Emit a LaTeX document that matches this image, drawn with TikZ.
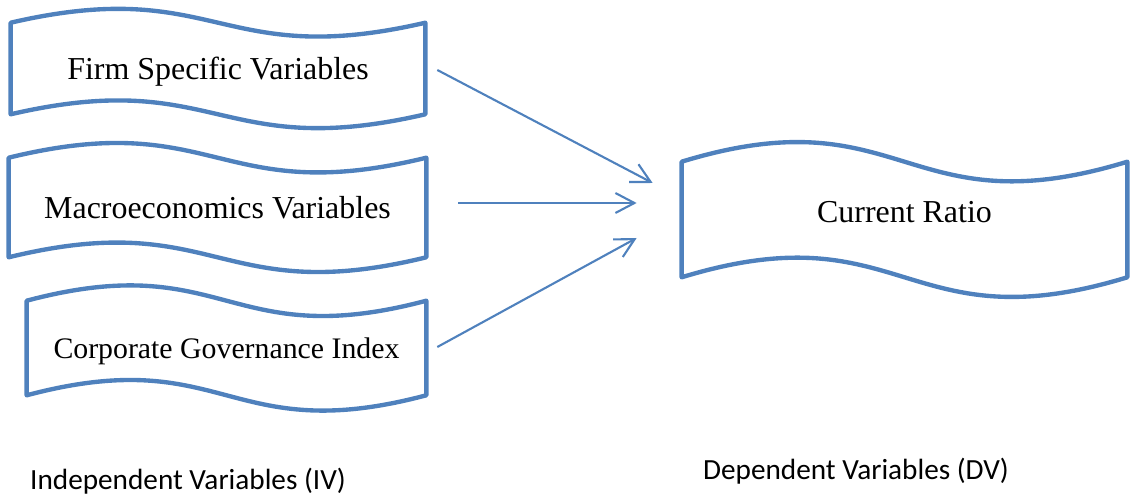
\documentclass[tikz,border=0pt]{standalone}
\usepackage{fontspec}
\setmainfont{Liberation Serif}
\newfontfamily\calibrifont{Carlito}
\usetikzlibrary{arrows.meta}
\definecolor{officeblue}{RGB}{79,129,189}

\begin{document}
\begin{tikzpicture}[x=0.025cm, y=-0.025cm,
    wave/.style={inner sep=0pt, text depth=0pt, font=\fontsize{22.7}{27}\selectfont},
    rim/.style={draw=officeblue, line width=3.1pt, line join=round},
    link/.style={-{Straight Barb[length=0.475cm, width=0.5cm]}, draw=officeblue, line width=1.5pt},
    caption/.style={font=\calibrifont\fontsize{20.8}{25}\selectfont}]
        \useasboundingbox (0, 0) rectangle (1133, 498);

        \node[wave, minimum width=10.35cm, minimum height=2.275cm] at (218, 68.5)  (firm)   {Firm Specific Variables};
        \node[wave, minimum width=10.425cm, minimum height=2.475cm] at (217.5, 207.5)  (macro)  {Macroeconomics Variables};
        \node[wave, minimum width=9.975cm, minimum height=2.35cm, font=\fontsize{21.2}{25}\selectfont] at (226.5, 348)  (cgi)    {Corporate Governance Index};
        \node[wave, minimum width=11.125cm, minimum height=2.875cm, text depth=0.36cm] at (904.5, 219.5)  (ratio)  {Current Ratio};

        \draw[rim]  (firm.north west) .. controls +(207, -48) and +(-207, 48) .. (firm.north east) -- (firm.south east) .. controls +(-207, 48) and +(207, -48) .. (firm.south west) -- cycle;
        \draw[rim]  (macro.north west) .. controls +(208.5, -51) and +(-208.5, 51) .. (macro.north east) -- (macro.south east) .. controls +(-208.5, 51) and +(208.5, -51) .. (macro.south west) -- cycle;
        \draw[rim]  (cgi.north west) .. controls +(199.5, -53) and +(-199.5, 53) .. (cgi.north east) -- (cgi.south east) .. controls +(-199.5, 53) and +(199.5, -53) .. (cgi.south west) -- cycle;
        \draw[rim]  (ratio.north west) .. controls +(222.5, -68) and +(-222.5, 68) .. (ratio.north east) -- (ratio.south east) .. controls +(-222.5, 68) and +(222.5, -68) .. (ratio.south west) -- cycle;

        \draw[link]  ([shift={(12, 1.5)}]firm.east) -- ([shift={(-29, -36.5)}]ratio.west);
        \draw[link]  ([shift={(32, -4.5)}]macro.east) -- ([shift={(-45, -16.5)}]ratio.west);
        \draw[link]  ([shift={(11, -1)}]cgi.east) -- ([shift={(-45, 18.5)}]ratio.west);

        \node[caption] at (188, 481)  (iv)  {Independent Variables (IV)};
        \node[caption] at (856, 471)  (dv)  {Dependent Variables (DV)};
      \end{tikzpicture}
\end{document}
